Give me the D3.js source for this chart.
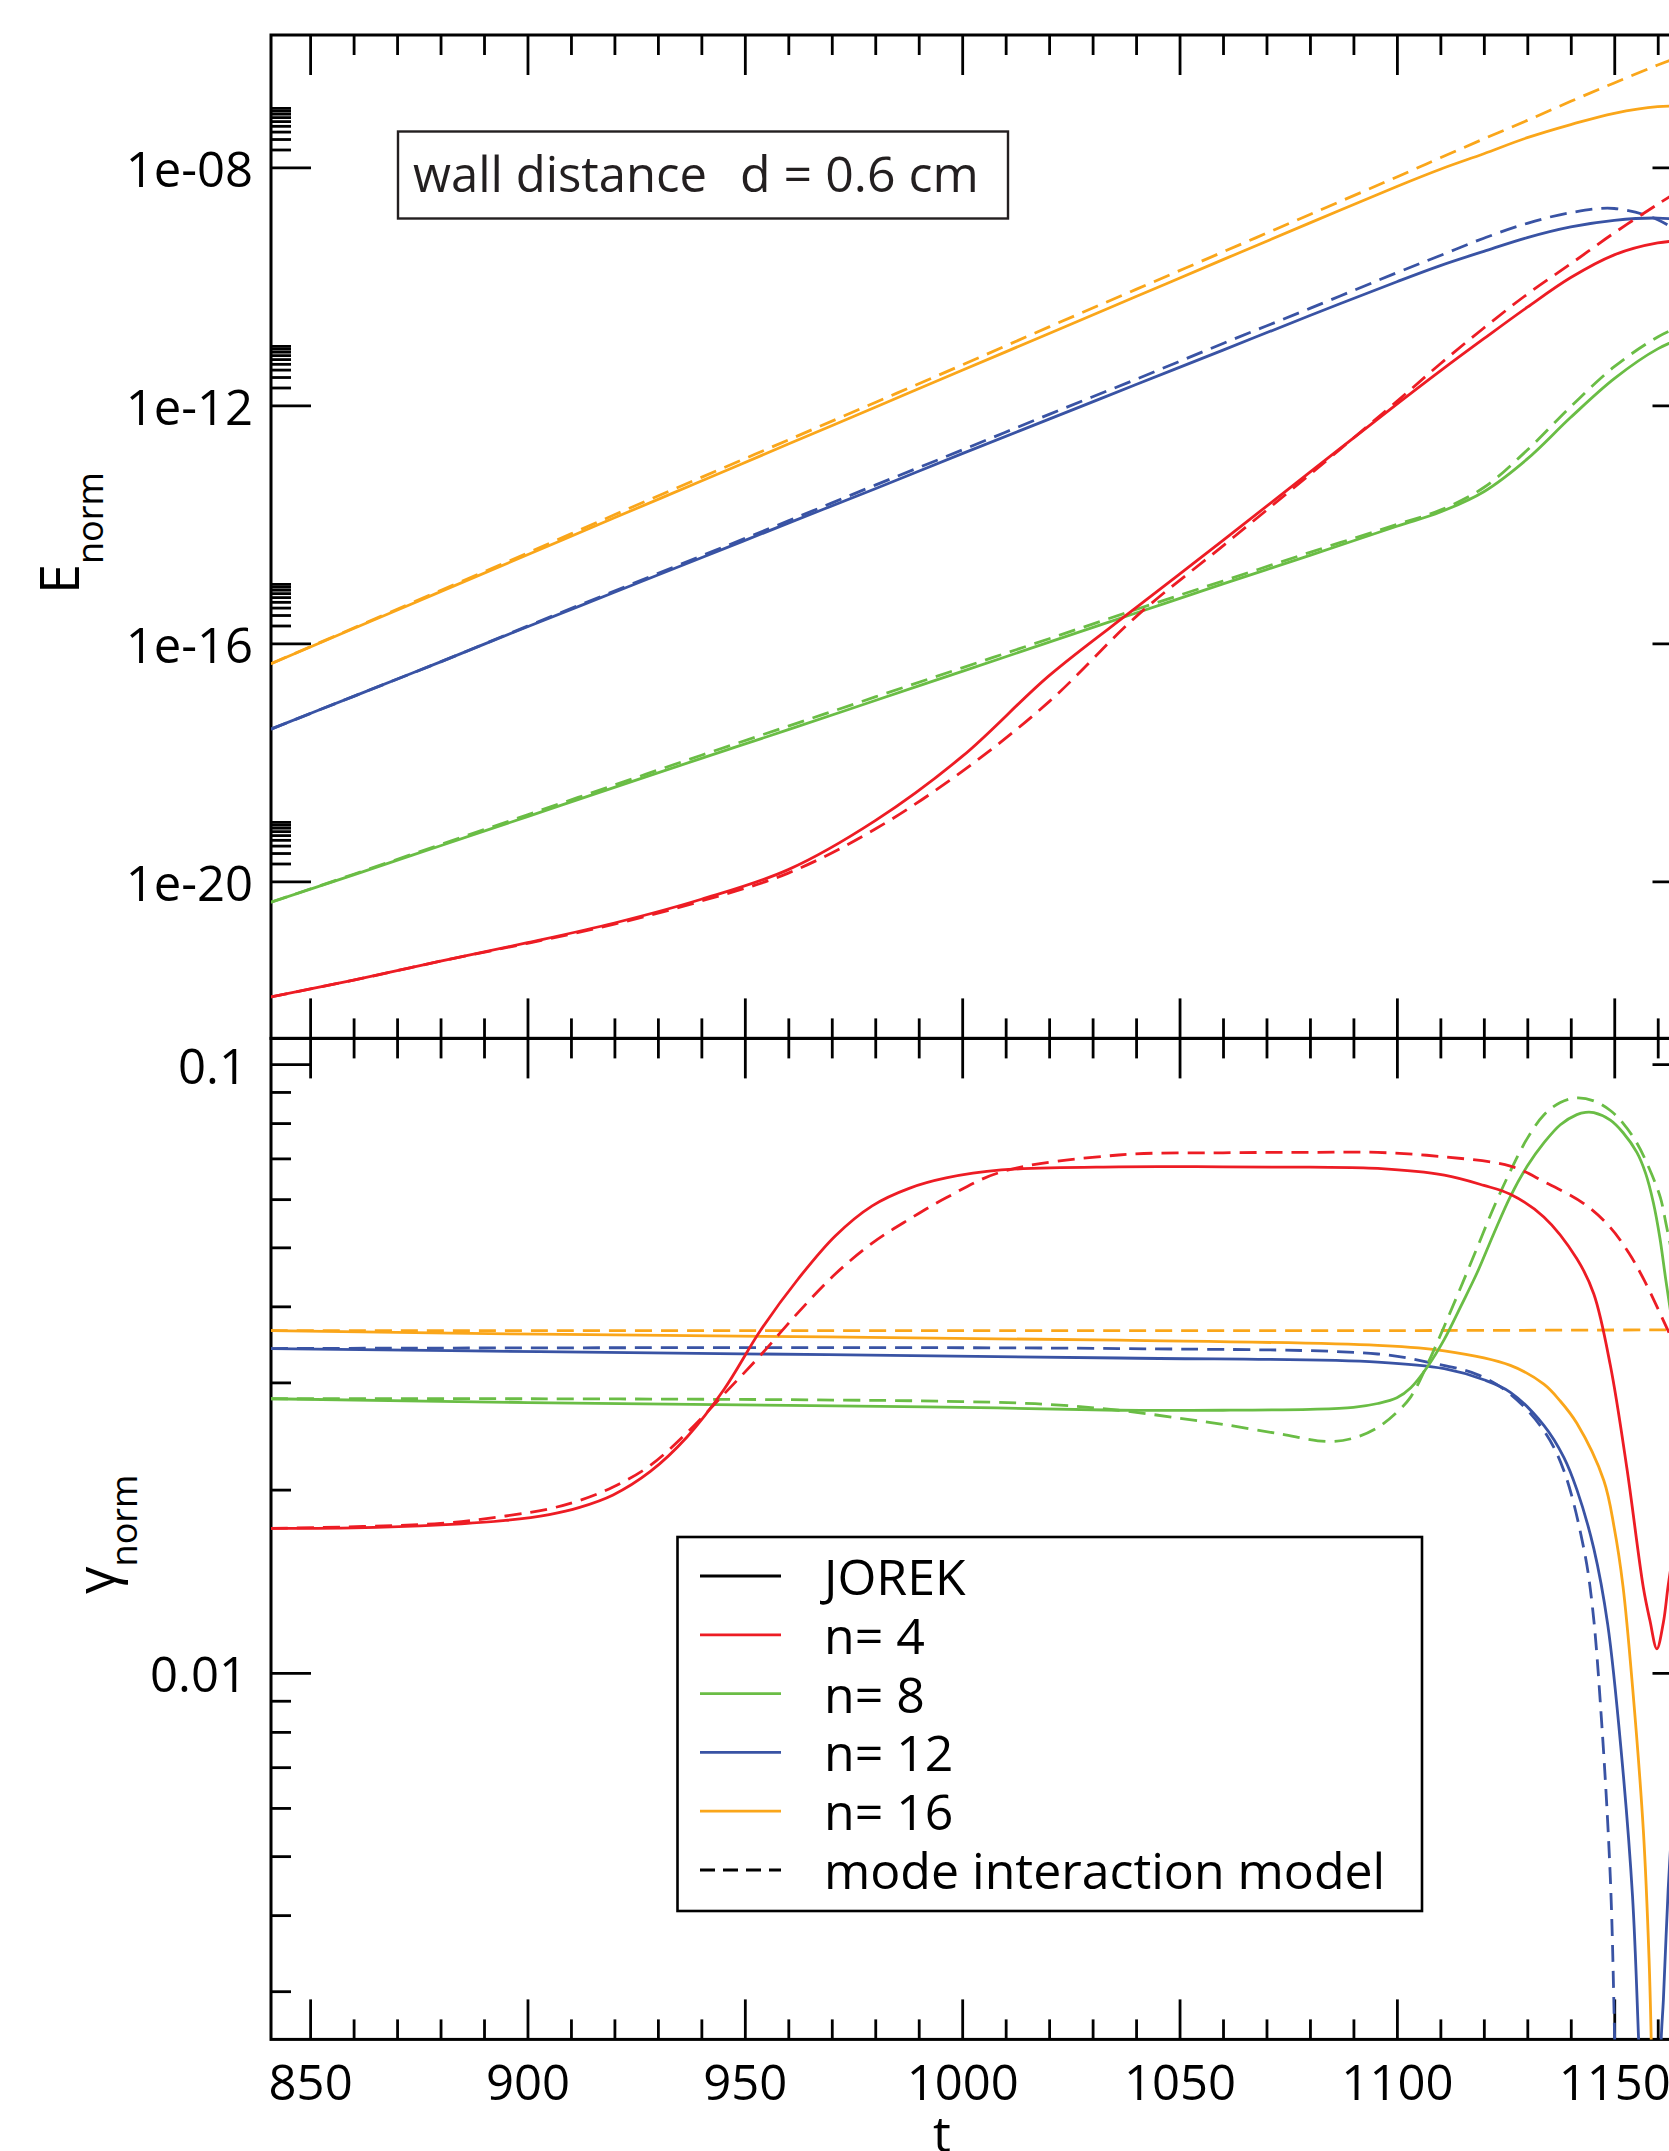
<!DOCTYPE html>
<html>
<head>
<meta charset="utf-8">
<script src="https://cdn.jsdelivr.net/npm/d3@7"></script>
<style>
  body { margin: 0; background: #ffffff; }
  svg { display: block; }
  text { font-family: 'Open Sans', 'Noto Sans', sans-serif; }
</style>
</head>
<body>
<svg id="chart" width="1669" height="2151"></svg>
<script>
// ---------------- DATA ----------------
const timeDomain = [841, 1168];
const energyDomain = [2.3e-23, 1.68e-6];
const gammaDomain = [0.0025, 0.1102];

const xMajorTicks = [850, 900, 950, 1000, 1050, 1100, 1150];
const xMajorLabels = ["850", "900", "950", "1000", "1050", "1100", "1150"];
const xMinorTicks = [860, 870, 880, 890, 910, 920, 930, 940, 960, 970, 980, 990, 1010, 1020, 1030, 1040,
                     1060, 1070, 1080, 1090, 1110, 1120, 1130, 1140, 1160];
const energyMajorTicks = [1e-20, 1e-16, 1e-12, 1e-8];
const energyMajorLabels = ["1e-20", "1e-16", "1e-12", "1e-08"];
const energyMinorMultipliers = [2, 3, 4, 5, 6, 7, 8, 9, 10];
const gammaMajorTicks = [0.01, 0.1];
const gammaMajorLabels = ["0.01", "0.1"];
const gammaMinorTicks = [0.003, 0.004, 0.005, 0.006, 0.007, 0.008, 0.009,
                         0.02, 0.03, 0.04, 0.05, 0.06, 0.07, 0.08, 0.09];

// top panel: energies on a shared time grid
const tEnergy = [841, 860, 880, 900, 920, 940, 960, 980, 1000, 1020, 1040, 1060, 1080, 1100, 1110, 1120, 1130, 1140, 1150, 1160, 1168];
const energyN4Jorek  = [1.15e-22, 2.19e-22, 4.57e-22, 9.33e-22, 2.00e-21, 5.01e-21, 1.58e-20, 1.05e-19, 1.26e-18, 2.88e-17, 3.98e-16, 5.37e-15, 7.59e-14, 1.05e-12, 3.80e-12, 1.32e-11, 4.47e-11, 1.41e-10, 3.39e-10, 5.37e-10, 6.03e-10];
const energyN4Model  = [1.15e-22, 2.19e-22, 4.57e-22, 9.12e-22, 1.91e-21, 4.68e-21, 1.38e-20, 7.59e-20, 7.08e-19, 1.05e-17, 2.82e-16, 4.37e-15, 6.92e-14, 1.17e-12, 5.01e-12, 2.00e-11, 7.41e-11, 2.40e-10, 7.94e-10, 2.40e-9, 5.62e-9];
const energyN8Jorek  = [4.47e-21, 1.29e-20, 3.98e-20, 1.23e-19, 3.80e-19, 1.17e-18, 3.55e-18, 1.10e-17, 3.39e-17, 1.05e-16, 3.24e-16, 1.00e-15, 3.02e-15, 9.33e-15, 1.62e-14, 3.55e-14, 1.26e-13, 6.31e-13, 2.82e-12, 8.91e-12, 1.58e-11];
const energyN8Model  = [4.47e-21, 1.32e-20, 4.17e-20, 1.32e-19, 4.17e-19, 1.32e-18, 4.07e-18, 1.26e-17, 3.89e-17, 1.20e-16, 3.72e-16, 1.12e-15, 3.39e-15, 1.00e-14, 1.74e-14, 4.17e-14, 1.78e-13, 9.55e-13, 4.47e-12, 1.41e-11, 2.63e-11];
const energyN12Jorek = [3.63e-18, 1.29e-17, 4.90e-17, 1.91e-16, 7.24e-16, 2.75e-15, 1.05e-14, 3.98e-14, 1.55e-13, 5.89e-13, 2.24e-12, 8.51e-12, 3.24e-11, 1.20e-10, 2.24e-10, 3.89e-10, 6.61e-10, 1.00e-9, 1.29e-9, 1.41e-9, 1.26e-9];
const energyN12Model = [3.63e-18, 1.29e-17, 4.90e-17, 1.95e-16, 7.59e-16, 2.95e-15, 1.15e-14, 4.57e-14, 1.78e-13, 7.08e-13, 2.75e-12, 1.10e-11, 4.27e-11, 1.70e-10, 3.31e-10, 6.46e-10, 1.15e-9, 1.74e-9, 2.04e-9, 1.32e-9, 5.62e-10];
const energyN16Jorek = [4.57e-17, 1.78e-16, 7.41e-16, 3.09e-15, 1.29e-14, 5.37e-14, 2.24e-13, 9.33e-13, 3.89e-12, 1.62e-11, 6.76e-11, 2.82e-10, 1.17e-9, 4.79e-9, 9.33e-9, 1.70e-8, 3.16e-8, 5.25e-8, 8.13e-8, 1.05e-7, 1.07e-7];
const energyN16Model = [4.57e-17, 1.82e-16, 7.76e-16, 3.31e-15, 1.45e-14, 6.17e-14, 2.63e-13, 1.12e-12, 4.79e-12, 2.09e-11, 8.91e-11, 3.80e-10, 1.62e-9, 6.92e-9, 1.45e-8, 3.02e-8, 6.17e-8, 1.29e-7, 2.63e-7, 5.25e-7, 8.71e-7];

// bottom panel: growth rates, each with its own time samples
const tGammaN4Jorek = [841, 860, 880, 895, 905, 912, 919.7, 928.2, 936.7, 945.2, 953.7, 962.3, 970.8, 979.3, 987.8, 996.3, 1009, 1036, 1060, 1080, 1095.6, 1110.9, 1120, 1126.1, 1133.8, 1141.4, 1145.3, 1149.1, 1152.9, 1156.7, 1158.2, 1159.8, 1161.3, 1162.4, 1164];
const gammaN4Jorek  = [0.01727, 0.0173, 0.0175, 0.0178, 0.0182, 0.0187, 0.0196, 0.0214, 0.0244, 0.0292, 0.0366, 0.0444, 0.0522, 0.0585, 0.0625, 0.0650, 0.0670, 0.0678, 0.0678, 0.0677, 0.0674, 0.0657, 0.0632, 0.0611, 0.0561, 0.0479, 0.0419, 0.0320, 0.0217, 0.0138, 0.0122, 0.01095, 0.0121, 0.0139, 0.0165];
const tGammaN4Model = [841, 880, 895, 905, 912, 919.7, 928.2, 936.7, 945.2, 953.7, 962.3, 970.8, 979.3, 987.8, 996.3, 1009, 1036, 1060, 1080, 1095.6, 1110.9, 1126.1, 1134, 1143, 1149, 1153.4, 1157, 1162.3, 1164];
const gammaN4Model  = [0.01727, 0.0176, 0.0181, 0.0186, 0.0192, 0.0202, 0.0219, 0.0248, 0.0287, 0.0333, 0.0391, 0.0452, 0.0508, 0.0556, 0.0603, 0.0665, 0.0709, 0.0715, 0.0716, 0.0716, 0.0704, 0.0680, 0.0640, 0.0590, 0.0540, 0.0489, 0.0440, 0.0366, 0.0345];
const tGammaN8Jorek = [841, 900, 960, 1000, 1036, 1060, 1080, 1090, 1095.6, 1100, 1103.2, 1107, 1110.9, 1114.7, 1118.5, 1122.3, 1126.1, 1130, 1133.8, 1137.6, 1141.4, 1143.4, 1145.3, 1149.1, 1152, 1155.2, 1157.2, 1159, 1160.5, 1161.9, 1163.5];
const gammaN8Jorek  = [0.0282, 0.0278, 0.0275, 0.0273, 0.0270, 0.0270, 0.0271, 0.0273, 0.0277, 0.0283, 0.0294, 0.0318, 0.0353, 0.0400, 0.0455, 0.0527, 0.0606, 0.0680, 0.0742, 0.0795, 0.0826, 0.0833, 0.0832, 0.0809, 0.0772, 0.0716, 0.0662, 0.0592, 0.0518, 0.0440, 0.0370];
const tGammaN8Model = [841, 900, 960, 1000, 1020, 1036, 1050, 1060, 1073, 1084, 1090, 1095.6, 1100, 1103.2, 1107, 1110.9, 1114.7, 1118.5, 1122.3, 1126.1, 1130, 1133.8, 1137.6, 1141.4, 1145.3, 1149.1, 1152, 1155.2, 1158, 1160.6, 1161.9, 1163.5];
const gammaN8Model  = [0.0282, 0.0282, 0.0281, 0.0279, 0.0276, 0.0270, 0.0262, 0.0256, 0.0247, 0.0240, 0.0243, 0.0253, 0.0268, 0.0284, 0.0321, 0.0371, 0.0430, 0.0500, 0.0582, 0.0667, 0.0755, 0.0825, 0.0865, 0.0880, 0.0870, 0.0839, 0.0800, 0.0742, 0.0675, 0.0604, 0.0547, 0.048];
const tGammaN12Jorek = [841, 902.7, 1036, 1095.6, 1110.9, 1120, 1126.1, 1133.8, 1138.4, 1141.4, 1145.3, 1148.5, 1151.7, 1154.2, 1155.6, 1157, 1159.5, 1160.8, 1161.3, 1162.4, 1163.5];
const gammaN12Jorek  = [0.0341, 0.0337, 0.0329, 0.0324, 0.0316, 0.0303, 0.0289, 0.0255, 0.0226, 0.0200, 0.0160, 0.0120, 0.0073, 0.0043, 0.0025, 0.0013, 0.0010, 0.0025, 0.0029, 0.0044, 0.0060];
const tGammaN12Model = [841, 1036, 1095.6, 1107, 1118.5, 1126.1, 1133.8, 1138.4, 1143, 1145, 1147.1, 1149.1, 1150.1, 1151];
const gammaN12Model  = [0.0341, 0.0341, 0.0334, 0.0324, 0.0309, 0.0287, 0.0250, 0.0215, 0.0160, 0.0128, 0.0083, 0.0046, 0.0025, 0.0012];
const tGammaN16Jorek = [841, 902.7, 1036, 1095.6, 1110.9, 1126.1, 1133.8, 1137.5, 1141.4, 1147.6, 1150, 1152, 1154.2, 1156.7, 1158, 1158.5, 1159.2];
const gammaN16Jorek  = [0.0365, 0.0360, 0.0352, 0.0345, 0.0338, 0.0320, 0.0298, 0.0280, 0.0257, 0.0207, 0.0173, 0.0139, 0.0095, 0.0055, 0.0034, 0.0025, 0.0012];
const tGammaN16Model = [841, 1000, 1100, 1164];
const gammaN16Model  = [0.0365, 0.0365, 0.0365, 0.0366];

const colorN4 = "#ed1c24", colorN8 = "#6abd45", colorN12 = "#3953a4", colorN16 = "#faa61a";
const legendLabels = ["JOREK", "n= 4", "n= 8", "n= 12", "n= 16", "mode interaction model"];
const legendColors = ["#000000", colorN4, colorN8, colorN12, colorN16, "#000000"];
const legendDashed = [false, false, false, false, false, true];
const annotationParts = ["wall distance", "d = 0.6 cm"];

// ---------------- LAYOUT ----------------
const L = 271, R = 1692.5, T1 = 35, B1 = 1038.4, T2 = 1038.4, B2 = 2039.4;
const MAJ = 40, MIN = 20;
const TICK_W = 2.8, FRAME_W = 3, CURVE_W = 2.8;
const DASH = "17,9";

const svg = d3.select("#chart");
svg.append("rect").attr("width", 1669).attr("height", 2151).attr("fill", "#fff");

const x = d3.scaleLinear().domain(timeDomain).range([L, R]);
const yE = d3.scaleLog().domain(energyDomain).range([B1, T1]);
const yG = d3.scaleLog().domain(gammaDomain).range([B2, T2]);

const defs = svg.append("defs");
defs.append("clipPath").attr("id", "clipTop").append("rect")
  .attr("x", L).attr("y", T1).attr("width", R - L).attr("height", B1 - T1);
defs.append("clipPath").attr("id", "clipBot").append("rect")
  .attr("x", L).attr("y", T2).attr("width", R - L).attr("height", B2 - T2);

function styleAxis(g) {
  g.select(".domain").remove();
  g.selectAll(".tick line").attr("stroke", "#000").attr("stroke-width", TICK_W);
  g.selectAll(".tick text").attr("fill", "#000").style("font-size", "49px")
    .style("font-family", "'Open Sans', 'Noto Sans', sans-serif");
}

function xAxes(yPos, orient, withLabels) {
  const maj = (orient === "top" ? d3.axisTop(x) : d3.axisBottom(x))
    .tickValues(xMajorTicks).tickSize(-MAJ).tickSizeOuter(0);
  if (withLabels) maj.tickFormat((d, i) => xMajorLabels[i]).tickPadding(26);
  else maj.tickFormat("");
  const mi = (orient === "top" ? d3.axisTop(x) : d3.axisBottom(x))
    .tickValues(xMinorTicks).tickSize(-MIN).tickSizeOuter(0).tickFormat("");
  svg.append("g").attr("transform", `translate(0,${yPos})`).call(maj).call(styleAxis);
  svg.append("g").attr("transform", `translate(0,${yPos})`).call(mi).call(styleAxis);
}
xAxes(T1, "top", false);
xAxes(B1, "bottom", false);
xAxes(T2, "top", false);
xAxes(B2, "bottom", true);

// energy minor ticks
const energyMinorTicks = [];
energyMajorTicks.forEach(m => energyMinorMultipliers.forEach(k => {
  const v = m * k;
  if (v > energyDomain[0] && v < energyDomain[1]) energyMinorTicks.push(v);
}));

function yAxes(scale, majors, labels, minors, pad) {
  const lm = d3.axisLeft(scale).tickValues(majors).tickSize(-MAJ).tickSizeOuter(0)
    .tickFormat((d, i) => labels[i]).tickPadding(pad);
  const lmi = d3.axisLeft(scale).tickValues(minors).tickSize(-MIN).tickSizeOuter(0).tickFormat("");
  const rm = d3.axisRight(scale).tickValues(majors).tickSize(-MAJ).tickSizeOuter(0).tickFormat("");
  const rmi = d3.axisRight(scale).tickValues(minors).tickSize(-MIN).tickSizeOuter(0).tickFormat("");
  const g1 = svg.append("g").attr("transform", `translate(${L},0)`).call(lm).call(styleAxis);
  g1.selectAll(".tick text").attr("dy", "0.39em");
  svg.append("g").attr("transform", `translate(${L},0)`).call(lmi).call(styleAxis);
  svg.append("g").attr("transform", `translate(${R},0)`).call(rm).call(styleAxis);
  svg.append("g").attr("transform", `translate(${R},0)`).call(rmi).call(styleAxis);
}
yAxes(yE, energyMajorTicks, energyMajorLabels, energyMinorTicks, 18);
yAxes(yG, gammaMajorTicks, gammaMajorLabels, gammaMinorTicks, 24);

// frames
[[T1, B1], [T2, B2]].forEach(([a, b]) => {
  svg.append("rect").attr("x", L).attr("y", a).attr("width", R - L).attr("height", b - a)
    .attr("fill", "none").attr("stroke", "#000").attr("stroke-width", FRAME_W);
});

// curves
const topSeries = [
  { t: tEnergy, v: energyN16Model, c: colorN16, d: true },
  { t: tEnergy, v: energyN16Jorek, c: colorN16, d: false },
  { t: tEnergy, v: energyN12Model, c: colorN12, d: true },
  { t: tEnergy, v: energyN12Jorek, c: colorN12, d: false },
  { t: tEnergy, v: energyN8Model, c: colorN8, d: true },
  { t: tEnergy, v: energyN8Jorek, c: colorN8, d: false },
  { t: tEnergy, v: energyN4Model, c: colorN4, d: true },
  { t: tEnergy, v: energyN4Jorek, c: colorN4, d: false }
];
const botSeries = [
  { t: tGammaN16Model, v: gammaN16Model, c: colorN16, d: true },
  { t: tGammaN16Jorek, v: gammaN16Jorek, c: colorN16, d: false },
  { t: tGammaN12Model, v: gammaN12Model, c: colorN12, d: true },
  { t: tGammaN12Jorek, v: gammaN12Jorek, c: colorN12, d: false },
  { t: tGammaN8Model, v: gammaN8Model, c: colorN8, d: true },
  { t: tGammaN8Jorek, v: gammaN8Jorek, c: colorN8, d: false },
  { t: tGammaN4Model, v: gammaN4Model, c: colorN4, d: true },
  { t: tGammaN4Jorek, v: gammaN4Jorek, c: colorN4, d: false }
];

function drawSeries(list, yScale, clipId) {
  const g = svg.append("g").attr("clip-path", `url(#${clipId})`);
  const line = d3.line().x(p => x(p[0])).y(p => yScale(p[1])).curve(d3.curveCatmullRom.alpha(0.5));
  list.forEach(s => {
    const pts = s.t.map((t, i) => [t, s.v[i]]);
    g.append("path").attr("d", line(pts)).attr("fill", "none")
      .attr("stroke", s.c).attr("stroke-width", CURVE_W)
      .attr("stroke-dasharray", s.d ? DASH : null)
      .attr("stroke-linejoin", "round");
  });
}
drawSeries(topSeries, yE, "clipTop");
drawSeries(botSeries, yG, "clipBot");

// annotation box
svg.append("rect").attr("x", 398).attr("y", 131.5).attr("width", 610).attr("height", 87)
  .attr("fill", "#fff").attr("stroke", "#231f20").attr("stroke-width", 2.4);
svg.append("text").attr("x", 413).attr("y", 192).attr("fill", "#231f20")
  .style("font-size", "49px").text(annotationParts[0]);
svg.append("text").attr("x", 740).attr("y", 192).attr("fill", "#231f20")
  .style("font-size", "50px").text(annotationParts[1]);

// legend
svg.append("rect").attr("x", 677.5).attr("y", 1537).attr("width", 744.5).attr("height", 374)
  .attr("fill", "#fff").attr("stroke", "#000").attr("stroke-width", 2.6);
const legY0 = 1576, legDY = 58.8;
legendLabels.forEach((lab, i) => {
  const yy = legY0 + i * legDY;
  svg.append("line").attr("x1", 700).attr("x2", 781).attr("y1", yy).attr("y2", yy)
    .attr("stroke", legendColors[i]).attr("stroke-width", CURVE_W)
    .attr("stroke-dasharray", legendDashed[i] ? "15,8" : null);
  svg.append("text").attr("x", 824).attr("y", yy + 19).attr("fill", "#000")
    .style("font-size", "50px").text(lab);
});

// axis titles
const eLab = svg.append("text").attr("transform", "translate(79,594) rotate(-90)")
  .attr("fill", "#000").style("font-size", "54px");
eLab.append("tspan").text("E");
eLab.append("tspan").attr("dy", 24).style("font-size", "36px").text("norm");

const gLab = svg.append("text").attr("transform", "translate(115,1594) rotate(-90)")
  .attr("fill", "#000").style("font-size", "54px");
gLab.append("tspan").text("γ");
gLab.append("tspan").attr("dy", 22).style("font-size", "36px").text("norm");

svg.append("text").attr("x", 942).attr("y", 2152).attr("text-anchor", "middle")
  .attr("fill", "#000").style("font-size", "50px").text("t");
</script>
</body>
</html>
